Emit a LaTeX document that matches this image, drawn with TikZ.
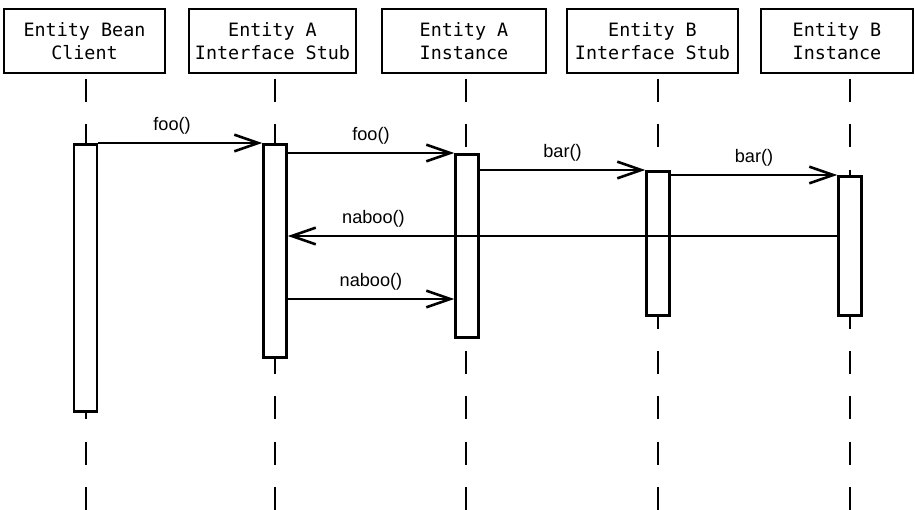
\documentclass[tikz,border=0pt]{standalone}
\usepackage{fontspec}
\setmainfont{Liberation Sans}
\newfontfamily\headfont{DejaVu Sans Mono}
\usetikzlibrary{arrows.meta}

\tikzset{
  head/.style={draw, line width=2.3pt, minimum height=1.92cm, inner sep=0pt,
    align=center, font={\headfont\fontsize{15.7}{19.6}\selectfont}},
  act/.style={draw, fill=white, line width=2.2pt, minimum width=0.69cm,
    inner sep=0pt, anchor=north},
  life/.style={line width=2.2pt, dash pattern=on 0.69cm off 0.67cm},
  msg/.style={line width=2pt, line join=miter,
    -{Straight Barb[length=0.72cm,width=0.5cm,line width=2.2pt]}},
  lbl/.style={above=0.24cm, inner sep=0pt, font={\fontsize{15.5}{18}\selectfont}}
}

\begin{document}
\begin{tikzpicture}[x=0.03cm, y=-0.03cm]

    \useasboundingbox (0,0) rectangle (915,510);
    %\draw (0,0) rectangle (915,510);

    % header boxes
    \node[head, minimum width=4.83cm] (headClient) at (84.5,41) {Entity Bean\\Client};
    \node[head, minimum width=5.01cm] (headStubA)  at (272.5,41) {Entity A\\Interface Stub};
    \node[head, minimum width=4.92cm] (headInstA)  at (464,41) {Entity A\\Instance};
    \node[head, minimum width=5.13cm] (headStubB)  at (652.5,41) {Entity B\\Interface Stub};
    \node[head, minimum width=4.56cm] (headInstB)  at (837,41) {Entity B\\Instance};

    % lifelines
    \foreach \x/\n in {86/Client, 275/StubA, 466/InstA, 658/StubB, 850/InstB}{
        \coordinate (top\n) at (\x,79);
        \coordinate (end\n) at (\x,510);
        \draw[life] (top\n) -- (end\n);
    }

    % activations
    \node[act, minimum height=8.01cm] (actClient) at (85.5,143) {};
    \node[act, minimum height=6.39cm] (actStubA)  at (275,143) {};
    \node[act, minimum height=5.49cm] (actInstA)  at (467,153) {};
    \node[act, minimum height=4.32cm] (actStubB)  at (658,170) {};
    \node[act, minimum height=4.17cm] (actInstB)  at (850,175) {};

    % calls
    \draw[msg] (actClient.north east) -- node[lbl, pos=0.45] {foo()} (actStubA.north west);
    \draw[msg] (actStubA.east |- actInstA.north) -- node[lbl] {foo()} (actInstA.north west);
    \draw[msg] (actInstA.east |- actStubB.north) -- node[lbl] {bar()} (actStubB.north west);
    \draw[msg] (actStubB.east |- actInstB.north) -- node[lbl] {bar()} (actInstB.north west);

    \coordinate (rowA) at (0,236);
    \coordinate (rowB) at (0,299);
    \draw[msg] (actInstB.west |- rowA) -- node[lbl, pos=0.844] {naboo()} (actStubA.east |- rowA);
    \draw[msg] (actStubA.east |- rowB) -- node[lbl] {naboo()} (actInstA.west |- rowB);

\end{tikzpicture}
\end{document}
